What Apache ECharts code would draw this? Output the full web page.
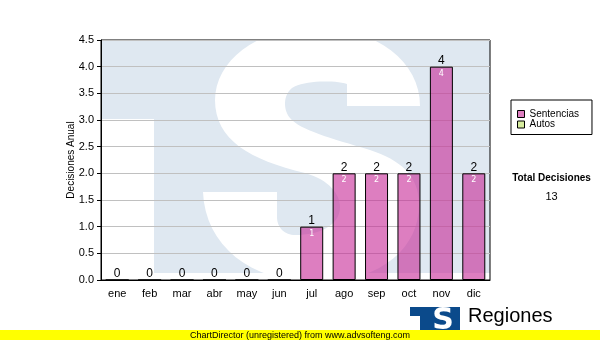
<!DOCTYPE html>
<html>
<head>
<meta charset="utf-8">
<script src="https://cdn.jsdelivr.net/npm/echarts@6/dist/echarts.min.js"></script>
<style>
html,body{margin:0;padding:0;background:#fff;}
#c{width:600px;height:340px;}
</style>
</head>
<body>
<div id="c"></div>
<script>
const months = ['ene','feb','mar','abr','may','jun','jul','ago','sep','oct','nov','dic'];
const sentencias = [0,0,0,0,0,0,1,2,2,2,4,2];
const autos = [0,0,0,0,0,0,0,0,0,0,0,0];
const totalDecisiones = 13;

const chart = echarts.init(document.getElementById('c'), null, {renderer:'canvas'});
const wmBlue = '#dfe8f1';
// decorative watermark "S" outline (background logo, not data)
const wmS = 'M420 106 C420 62 378 28 315 28 C255 28 215 62 215 100 C215 140 250 160 305 173 ' +
  'C330 180 340 195 340 207 C340 225 320 235 295 235 C285 235 277 228 277 217 L277 192 L203 192 ' +
  'C205 245 250 282 315 282 C385 282 419 245 419 205 C419 175 400 160 370 150 ' +
  'C330 138 300 130 290 118 C283 110 283 95 292 88 C305 80 335 80 347 84 L347 106 Z';
function pathToPoints(d) {
  const tok = d.match(/[MCLZ]|-?\d+(\.\d+)?/g);
  const pts = [];
  let i = 0, cur = [0, 0], cmd = '';
  while (i < tok.length) {
    if (/[MCLZ]/.test(tok[i])) { cmd = tok[i++]; if (cmd === 'Z') continue; }
    if (cmd === 'M' || cmd === 'L') {
      cur = [+tok[i], +tok[i + 1]]; i += 2; pts.push(cur.slice());
    } else if (cmd === 'C') {
      const p1 = [+tok[i], +tok[i + 1]], p2 = [+tok[i + 2], +tok[i + 3]], p3 = [+tok[i + 4], +tok[i + 5]];
      i += 6;
      for (let k = 1; k <= 16; k++) {
        const t = k / 16, u = 1 - t;
        pts.push([
          u * u * u * cur[0] + 3 * u * u * t * p1[0] + 3 * u * t * t * p2[0] + t * t * t * p3[0],
          u * u * u * cur[1] + 3 * u * u * t * p1[1] + 3 * u * t * t * p2[1] + t * t * t * p3[1]
        ]);
      }
      cur = p3;
    } else { i++; }
  }
  return pts;
}
const option = {
  animation: false,
  backgroundColor: '#fff',
  grid: {left: 101, right: 110, top: 40, bottom: 60, show: true, borderColor: '#000', borderWidth: 1, backgroundColor: 'transparent'},
  legend: {
    orient: 'vertical', left: 511, top: 100,
    padding: [9, 13, 5, 6],
    borderColor: '#000', borderWidth: 1, itemWidth: 7, itemHeight: 7, itemGap: 0.5,
    textStyle: {fontFamily: 'Liberation Sans', fontSize: 10, lineHeight: 10, color: '#000'},
    icon: 'rect',
    data: [
      {name: 'Sentencias', itemStyle: {color: '#dd7ec0', borderColor: '#000', borderWidth: 1}},
      {name: 'Autos', itemStyle: {color: '#d6ec9e', borderColor: '#000', borderWidth: 1}}
    ]
  },
  xAxis: {
    type: 'category', data: months,
    axisLine: {lineStyle: {color: '#000', width: 1}},
    axisTick: {alignWithLabel: true, length: 4, lineStyle: {color: '#000'}},
    axisLabel: {color: '#000', fontFamily: 'Liberation Sans', fontSize: 11, margin: 8},
    splitLine: {show: false}
  },
  yAxis: {
    type: 'value', min: 0, max: 4.5, interval: 0.5,
    name: 'Decisiones Anual', nameLocation: 'middle', nameGap: 25, nameRotate: 90, nameMoveOverlap: false,
    nameTextStyle: {color: '#000', fontFamily: 'Liberation Sans', fontSize: 10},
    axisLine: {show: true, lineStyle: {color: '#000', width: 1}},
    axisTick: {show: true, length: 4, lineStyle: {color: '#000'}},
    axisLabel: {color: '#000', fontFamily: 'Liberation Sans', fontSize: 11, margin: 7,
      formatter: v => v.toFixed(1)},
    splitLine: {show: true, lineStyle: {color: '#c0c0c0', width: 1}}
  },
  graphic: [
    {type: 'rect', z: -10, silent: true, shape: {x: 154, y: 41, width: 336, height: 232}, style: {fill: wmBlue}},
    {type: 'rect', z: -10, silent: true, shape: {x: 102, y: 41, width: 60, height: 78}, style: {fill: wmBlue}},
    {type: 'polygon', z: -9, silent: true, shape: {points: pathToPoints(wmS)}, style: {fill: '#fff'}},
    {type: 'rect', z: -8, silent: true, shape: {x: 0, y: 0, width: 600, height: 40}, style: {fill: '#fff'}},
    {type: 'rect', z: -8, silent: true, shape: {x: 491, y: 0, width: 109, height: 340}, style: {fill: '#fff'}},
    {type: 'rect', z: -8, silent: true, shape: {x: 0, y: 273, width: 600, height: 67}, style: {fill: '#fff'}},
    {type: 'text', z: 10, style: {text: 'Total Decisiones', x: 551.5, y: 178, align: 'center', verticalAlign: 'middle',
      font: 'bold 10px "Liberation Sans"', fill: '#000'}},
    {type: 'text', z: 10, style: {text: String(totalDecisiones), x: 551.5, y: 197, align: 'center', verticalAlign: 'middle',
      font: '11px "Liberation Sans"', fill: '#000'}},
    // logo
    {type: 'rect', z: 10, shape: {x: 410, y: 307, width: 50, height: 24}, style: {fill: '#0b4a8b'}},
    {type: 'rect', z: 11, shape: {x: 410, y: 316, width: 10, height: 15}, style: {fill: '#fff'}},
    {type: 'text', z: 12, style: {text: 'S', x: 443, y: 321, align: 'center', verticalAlign: 'middle',
      font: 'bold 30px "DejaVu Sans"', fill: '#fff'}},
    {type: 'text', z: 10, style: {text: 'Regiones', x: 468, y: 316, align: 'left', verticalAlign: 'middle',
      font: '20px "Liberation Sans"', fill: '#000'}},
    {type: 'rect', z: 20, shape: {x: 0, y: 330, width: 600, height: 10}, style: {fill: '#ffff00'}},
    {type: 'text', z: 21, style: {text: 'ChartDirector (unregistered) from www.advsofteng.com', x: 300, y: 335.5, align: 'center', verticalAlign: 'middle',
      font: '9px "Liberation Sans"', fill: '#000'}}
  ],
  series: [
    {
      name: 'Sentencias', type: 'bar', stack: 'a', data: sentencias, barWidth: 23,
      itemStyle: {color: 'rgba(198,40,150,0.6)', borderColor: '#000', borderWidth: 1},
      label: {show: true, position: 'insideTop', distance: 3, color: '#fff', fontFamily: 'DejaVu Sans', fontSize: 8,
        formatter: p => p.value > 0 ? String(p.value) : ''}
    },
    {
      name: 'Autos', type: 'bar', stack: 'a', data: autos, barWidth: 23,
      itemStyle: {color: '#d6ec9e', borderWidth: 0},
      label: {show: true, position: 'top', distance: 0, color: '#000', fontFamily: 'Liberation Sans', fontSize: 12,
        formatter: p => String(sentencias[p.dataIndex] + autos[p.dataIndex])}
    }
  ]
};
chart.setOption(option);
</script>
</body>
</html>
